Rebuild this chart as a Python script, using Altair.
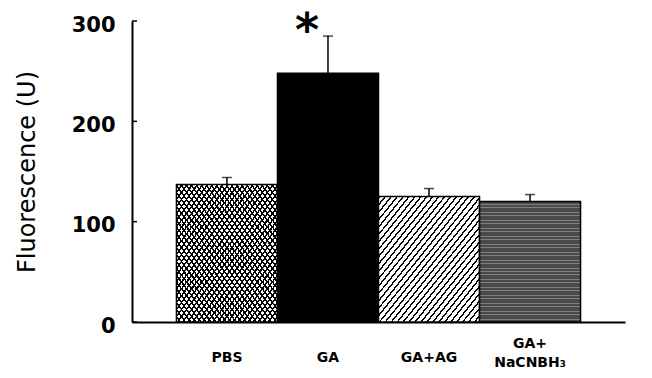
import altair as alt
import pandas as pd

categories = ["PBS", "GA", "GA+AG", "GA+\nNaCNBH₃"]
means = [137, 248, 125, 120]
errors = [7, 37, 8, 7]
markers = ["", "*", "", ""]
y_ticks = [0, 100, 200, 300]

df = pd.DataFrame({"cat": categories, "mean": means, "err": errors, "marker": markers})
df["upper"] = df["mean"] + df["err"]
tick_df = pd.DataFrame({"v": y_ticks})

FONT = "DejaVu Sans"
TITLE = "Fluorescence (U)"


def stripes(n, frac, fg, bg, x1, y1, x2, y2):
    stops = []
    for i in range(n):
        s = round(i / n, 5)
        e = round((i + frac) / n, 5)
        stops += [
            {"offset": s, "color": bg},
            {"offset": s, "color": fg},
            {"offset": e, "color": fg},
            {"offset": e, "color": bg},
        ]
    stops.append({"offset": 1, "color": bg})
    return {"gradient": "linear", "x1": x1, "y1": y1, "x2": x2, "y2": y2, "stops": stops}


x_enc = alt.X(
    "cat:N",
    sort=categories,
    title=None,
    scale=alt.Scale(paddingInner=0, paddingOuter=0.44),
    axis=alt.Axis(
        labelExpr="split(datum.label, '\\n')",
        labelAngle=0,
        labelBaseline="middle",
        labelPadding={"condition": {"test": "indexof(datum.value, 'NaCNBH') >= 0", "value": 21}, "value": 35},
        labelLineHeight=19,
        labelFont=FONT,
        labelFontSize=14,
        labelFontWeight="bold",
        ticks=False,
        tickSize=0,
    ),
)

y_axis = alt.Axis(
    values=y_ticks,
    grid=False,
    ticks=False,
    tickSize=0,
    labelFont=FONT,
    labelFontSize=21,
    labelFontWeight="bold",
    labelPadding=17,
    labelOffset=4,
    titleFont=FONT,
    titleFontSize=24,
    titleFontWeight="normal",
    titlePadding=32,
)
y_scale = alt.Scale(domain=[0, 300], nice=False)


def yq(field):
    return alt.Y(f"{field}:Q", title=TITLE, scale=y_scale, axis=y_axis)


base = alt.Chart(df)


def bar_for(idx, fill, stroke=True):
    kw = dict(fill=fill)
    if stroke:
        kw.update(stroke="black", strokeWidth=1.5)
    else:
        kw.update(strokeWidth=0)
    return (
        base.transform_filter(alt.FieldEqualPredicate(field="cat", equal=categories[idx]))
        .mark_bar(**kw)
        .encode(x=x_enc, y=yq("mean"))
    )


layers = [
    bar_for(0, stripes(40, 0.36, "black", "white", 0, 0, 1, 1), stroke=False),
    bar_for(0, stripes(40, 0.36, "black", "rgba(255,255,255,0)", 1, 0, 0, 1)),
    bar_for(1, "black"),
    bar_for(2, stripes(34, 0.3, "black", "white", 0, 0, 1, 1)),
    bar_for(3, stripes(45, 0.25, "#7e7e7e", "#4a4a4a", 0, 0, 0, 1)),
    base.mark_rule(color="black", strokeWidth=1.5).encode(x=x_enc, y=yq("mean"), y2="upper:Q"),
    base.mark_tick(color="black", thickness=1.5, size=10).encode(x=x_enc, y=yq("upper")),
    base.mark_text(
        font=FONT, fontSize=46, fontWeight="bold", color="black", dx=-21, dy=10, baseline="alphabetic"
    ).encode(x=x_enc, y=yq("upper"), text="marker:N"),
    alt.Chart(tick_df)
    .mark_rule(color="black", strokeWidth=1.5)
    .encode(y=yq("v"), x=alt.value(0), x2=alt.value(5)),
]

chart = (
    alt.layer(*layers)
    .properties(
        width=493,
        height=301,
        autosize=alt.AutoSizeParams(type="none"),
        padding={"left": 132, "top": 21, "right": 27, "bottom": 56},
        background="white",
    )
    .configure_view(stroke=None)
    .configure_axis(domainColor="black", domainWidth=2, labelColor="black", titleColor="black")
)

chart.save("out.html", embed_options={"renderer": "svg", "actions": False})
